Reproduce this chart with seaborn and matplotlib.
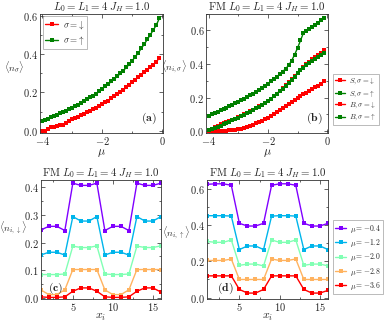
import numpy as np
import matplotlib
matplotlib.use('Agg')
import matplotlib.pyplot as plt
from matplotlib.ticker import AutoMinorLocator, MultipleLocator
import seaborn as sns

# chemical potential grid for panels (a) and (b)
mu = [-4.0, -3.9, -3.8, -3.7, -3.6, -3.5, -3.4, -3.3, -3.2, -3.1,
      -3.0, -2.9, -2.8, -2.7, -2.6, -2.5, -2.4, -2.3, -2.2, -2.1,
      -2.0, -1.9, -1.8, -1.7, -1.6, -1.5, -1.4, -1.3, -1.2, -1.1,
      -1.0, -0.9, -0.8, -0.7, -0.6, -0.5, -0.4, -0.3, -0.2, -0.1]

# panel (a): total densities
n_down = [0.000, 0.000, 0.010, 0.018, 0.022, 0.026, 0.029, 0.033, 0.042, 0.051,
          0.060, 0.067, 0.074, 0.081, 0.089, 0.097, 0.105, 0.113, 0.121, 0.129,
          0.138, 0.148, 0.158, 0.169, 0.180, 0.191, 0.202, 0.214, 0.226, 0.240,
          0.255, 0.267, 0.279, 0.292, 0.305, 0.318, 0.331, 0.345, 0.359, 0.380]
n_up = [0.052, 0.058, 0.064, 0.070, 0.077, 0.084, 0.091, 0.098, 0.106, 0.113,
        0.121, 0.129, 0.137, 0.146, 0.155, 0.164, 0.174, 0.184, 0.194, 0.205,
        0.220, 0.232, 0.244, 0.257, 0.270, 0.284, 0.299, 0.314, 0.330, 0.347,
        0.366, 0.386, 0.407, 0.429, 0.452, 0.476, 0.500, 0.525, 0.551, 0.585]

# panel (b): densities per site type
s_down = [0.000, 0.000, 0.000, 0.000, 0.001, 0.002, 0.003, 0.004, 0.006, 0.009,
          0.012, 0.015, 0.018, 0.022, 0.030, 0.038, 0.046, 0.054, 0.062, 0.071,
          0.080, 0.091, 0.102, 0.113, 0.124, 0.135, 0.147, 0.159, 0.172, 0.186,
          0.200, 0.210, 0.220, 0.230, 0.240, 0.250, 0.260, 0.270, 0.281, 0.298]
s_up = [0.093, 0.100, 0.108, 0.116, 0.124, 0.132, 0.140, 0.149, 0.158, 0.167,
        0.176, 0.185, 0.194, 0.204, 0.214, 0.224, 0.235, 0.246, 0.258, 0.270,
        0.283, 0.296, 0.310, 0.324, 0.339, 0.355, 0.372, 0.392, 0.420, 0.455,
        0.495, 0.540, 0.585, 0.598, 0.610, 0.622, 0.634, 0.646, 0.659, 0.675]
b_down = [0.000, 0.010, 0.022, 0.032, 0.040, 0.046, 0.052, 0.058, 0.065, 0.073,
          0.082, 0.091, 0.100, 0.109, 0.118, 0.127, 0.137, 0.147, 0.157, 0.168,
          0.180, 0.194, 0.209, 0.224, 0.240, 0.256, 0.273, 0.290, 0.308, 0.327,
          0.347, 0.364, 0.381, 0.397, 0.412, 0.427, 0.440, 0.453, 0.466, 0.483]
b_up = [0.008, 0.012, 0.018, 0.025, 0.032, 0.040, 0.048, 0.056, 0.064, 0.072,
        0.080, 0.089, 0.098, 0.107, 0.116, 0.125, 0.135, 0.145, 0.155, 0.166,
        0.178, 0.192, 0.207, 0.222, 0.238, 0.254, 0.271, 0.288, 0.306, 0.325,
        0.345, 0.362, 0.378, 0.393, 0.407, 0.420, 0.432, 0.443, 0.455, 0.468]

# panels (c) and (d): site-resolved densities
sites = list(range(1, 17))
mu_labels = ['-0.4', '-1.2', '-2.0', '-2.8', '-3.6']
site_down = [
    [0.245, 0.258, 0.258, 0.243, 0.413, 0.405, 0.405, 0.413,
     0.243, 0.258, 0.258, 0.243, 0.413, 0.405, 0.405, 0.413],
    [0.155, 0.165, 0.165, 0.155, 0.293, 0.277, 0.277, 0.293,
     0.155, 0.165, 0.165, 0.155, 0.293, 0.277, 0.277, 0.293],
    [0.085, 0.085, 0.085, 0.087, 0.187, 0.182, 0.182, 0.188,
     0.087, 0.085, 0.085, 0.087, 0.187, 0.182, 0.182, 0.188],
    [0.030, 0.013, 0.013, 0.030, 0.103, 0.103, 0.103, 0.103,
     0.030, 0.013, 0.013, 0.030, 0.103, 0.103, 0.103, 0.103],
    [0.005, 0.003, 0.003, 0.005, 0.025, 0.037, 0.037, 0.025,
     0.005, 0.003, 0.003, 0.005, 0.025, 0.037, 0.037, 0.022],
]
site_up = [
    [0.625, 0.628, 0.628, 0.620, 0.410, 0.395, 0.395, 0.410,
     0.620, 0.628, 0.628, 0.620, 0.410, 0.395, 0.395, 0.410],
    [0.452, 0.452, 0.452, 0.450, 0.265, 0.285, 0.285, 0.265,
     0.450, 0.452, 0.452, 0.450, 0.265, 0.285, 0.285, 0.265],
    [0.310, 0.305, 0.305, 0.318, 0.178, 0.185, 0.185, 0.175,
     0.318, 0.305, 0.305, 0.318, 0.178, 0.185, 0.185, 0.175],
    [0.205, 0.205, 0.205, 0.213, 0.100, 0.100, 0.100, 0.100,
     0.213, 0.205, 0.205, 0.213, 0.100, 0.100, 0.100, 0.100],
    [0.120, 0.120, 0.120, 0.120, 0.045, 0.025, 0.025, 0.045,
     0.120, 0.120, 0.120, 0.120, 0.045, 0.025, 0.025, 0.040],
]

sns.set_style('ticks')
plt.rcParams['font.family'] = 'serif'
plt.rcParams['font.serif'] = ['cmr10', 'DejaVu Serif']
plt.rcParams['mathtext.fontset'] = 'cm'
plt.rcParams['axes.formatter.use_mathtext'] = True
plt.rcParams['axes.unicode_minus'] = True
plt.rcParams['font.size'] = 8
plt.rcParams['axes.linewidth'] = 0.6
plt.rcParams['axes.edgecolor'] = '#333333'

title_fm = r'$\mathrm{FM}\ L_0 = L_1 = 4\ J_H = 1.0$'
line_kw = dict(marker='s', markersize=2.6, markeredgewidth=0, linewidth=1.0)
rainbow = plt.cm.rainbow(np.linspace(0, 1, 5))
leg_kw = dict(frameon=True, fancybox=False, edgecolor='#888888',
              handlelength=1.4, handletextpad=0.5, borderpad=0.3)
ylab_kw = dict(fontsize=7, rotation=0, ha='center', va='center')


def style_axis(ax):
    ax.tick_params(which='both', direction='in', top=True, right=True,
                   labelsize=7.5, width=0.5, pad=1.5)
    ax.tick_params(which='major', length=3)
    ax.tick_params(which='minor', length=1.6)
    ax.xaxis.set_minor_locator(AutoMinorLocator(2))
    ax.yaxis.set_minor_locator(AutoMinorLocator(2))


fig = plt.figure(figsize=(3.85, 3.24), dpi=100)
ax_a = fig.add_axes([0.104, 0.590, 0.320, 0.368])
ax_b = fig.add_axes([0.536, 0.590, 0.316, 0.368])
ax_c = fig.add_axes([0.106, 0.077, 0.312, 0.368])
ax_d = fig.add_axes([0.538, 0.077, 0.314, 0.368])

# (a)
sns.lineplot(x=mu, y=n_down, ax=ax_a, color='red', label=r'$\sigma = \!\downarrow$', **line_kw)
sns.lineplot(x=mu, y=n_up, ax=ax_a, color='green', label=r'$\sigma = \!\uparrow$', **line_kw)
ax_a.set_xlim(-4.08, 0.03)
ax_a.set_ylim(-0.01, 0.61)
ax_a.xaxis.set_major_locator(MultipleLocator(2))
ax_a.yaxis.set_major_locator(MultipleLocator(0.2))
ax_a.set_title(r'$L_0 = L_1 = 4\ J_H = 1.0$', fontsize=7.8, pad=1)
ax_a.set_xlabel(r'$\mu$', fontsize=8.5, labelpad=0)
ax_a.set_ylabel(r'$\langle n_\sigma \rangle$', **ylab_kw)
ax_a.yaxis.set_label_coords(-0.21, 0.55)
ax_a.legend(loc='upper left', fontsize=6.5, borderaxespad=0.3,
            labelspacing=0.3, **leg_kw).get_frame().set_linewidth(0.5)
ax_a.text(0.88, 0.12, r'$\mathbf{(a)}$', transform=ax_a.transAxes,
          ha='center', va='center', fontsize=8.5)

# (b)
sns.lineplot(x=mu, y=s_down, ax=ax_b, color='red', label=r'$S, \sigma = \!\downarrow$', **line_kw)
sns.lineplot(x=mu, y=s_up, ax=ax_b, color='green', label=r'$S, \sigma = \!\uparrow$', **line_kw)
sns.lineplot(x=mu, y=b_down, ax=ax_b, color='red', label=r'$B, \sigma = \!\downarrow$', **line_kw)
sns.lineplot(x=mu, y=b_up, ax=ax_b, color='green', label=r'$B, \sigma = \!\uparrow$', **line_kw)
ax_b.set_xlim(-4.08, 0.03)
ax_b.set_ylim(-0.01, 0.70)
ax_b.xaxis.set_major_locator(MultipleLocator(2))
ax_b.yaxis.set_major_locator(MultipleLocator(0.2))
ax_b.set_title(title_fm, fontsize=7.8, pad=1)
ax_b.set_xlabel(r'$\mu$', fontsize=8.5, labelpad=0)
ax_b.set_ylabel(r'$\langle n_{i,\sigma} \rangle$', **ylab_kw)
ax_b.yaxis.set_label_coords(-0.27, 0.55)
ax_b.legend(loc='center left', bbox_to_anchor=(1.01, 0.28), fontsize=5.3,
            labelspacing=0.25, **leg_kw).get_frame().set_linewidth(0.5)
ax_b.text(0.89, 0.12, r'$\mathbf{(b)}$', transform=ax_b.transAxes,
          ha='center', va='center', fontsize=8.5)

# (c) and (d)
for i, m in enumerate(mu_labels):
    sns.lineplot(x=sites, y=site_down[i], ax=ax_c, color=rainbow[i], **line_kw)
    sns.lineplot(x=sites, y=site_up[i], ax=ax_d, color=rainbow[i],
                 label=r'$\mu = %s$' % m, **line_kw)

ax_c.set_xlim(1, 16)
ax_c.set_ylim(-0.003, 0.425)
ax_c.xaxis.set_major_locator(MultipleLocator(5))
ax_c.yaxis.set_major_locator(MultipleLocator(0.1))
ax_c.set_title(title_fm, fontsize=7.8, pad=1)
ax_c.set_xlabel(r'$x_i$', fontsize=8.5, labelpad=-1)
ax_c.set_ylabel(r'$\langle n_{i,\downarrow} \rangle$', **ylab_kw)
ax_c.yaxis.set_label_coords(-0.23, 0.59)
ax_c.text(0.12, 0.09, r'$\mathbf{(c)}$', transform=ax_c.transAxes,
          ha='center', va='center', fontsize=8.5)

ax_d.set_xlim(1, 16)
ax_d.set_ylim(-0.008, 0.65)
ax_d.xaxis.set_major_locator(MultipleLocator(5))
ax_d.yaxis.set_major_locator(MultipleLocator(0.2))
ax_d.set_title(title_fm, fontsize=7.8, pad=1)
ax_d.set_xlabel(r'$x_i$', fontsize=8.5, labelpad=-1)
ax_d.set_ylabel(r'$\langle n_{i,\uparrow} \rangle$', **ylab_kw)
ax_d.yaxis.set_label_coords(-0.26, 0.55)
ax_d.legend(loc='center left', bbox_to_anchor=(1.01, 0.35), fontsize=5.5,
            labelspacing=0.3, **leg_kw).get_frame().set_linewidth(0.5)
ax_d.text(0.15, 0.09, r'$\mathbf{(d)}$', transform=ax_d.transAxes,
          ha='center', va='center', fontsize=8.5)

for ax in (ax_a, ax_b, ax_c, ax_d):
    style_axis(ax)

fig.savefig('out.png', dpi=100)
